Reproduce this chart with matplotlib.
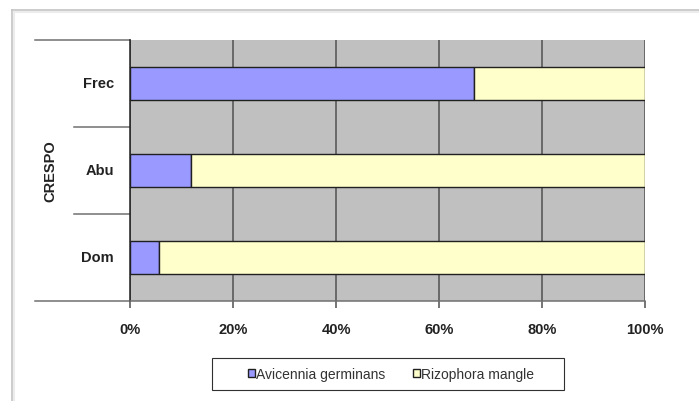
import matplotlib
matplotlib.use("Agg")
import matplotlib.pyplot as plt
from matplotlib.lines import Line2D
from matplotlib.patches import Patch, Rectangle
import matplotlib.transforms as mtransforms
import numpy as np

plt.rcParams['font.family'] = ['Liberation Sans', 'DejaVu Sans']

categories = ["Dom", "Abu", "Frec"]
avicennia = [5.7, 11.8, 66.7]
rizophora = [94.3, 88.2, 33.3]
series_names = ["Avicennia germinans", "Rizophora mangle"]
axis_title = "CRESPO"
xticks = [0, 20, 40, 60, 80, 100]
xtick_labels = ["0%", "20%", "40%", "60%", "80%", "100%"]

W, H = 699, 402
fig = plt.figure(figsize=(W / 100, H / 100), dpi=100)
fig.patch.set_facecolor("white")

# chart outer frame (top & left edges visible)
fig.add_artist(Line2D([12 / W, 1], [1 - 11 / H, 1 - 11 / H], color="#c4c4c4", lw=1.2))
fig.add_artist(Line2D([12 / W, 12 / W], [0, 1 - 11 / H], color="#c4c4c4", lw=1.2))
fig.add_artist(Line2D([14 / W, 1], [1 - 13 / H, 1 - 13 / H], color="#ececec", lw=1.5))
fig.add_artist(Line2D([14 / W, 14 / W], [0, 1 - 13 / H], color="#ececec", lw=1.5))

ax = fig.add_axes([130 / W, 1 - 302 / H, 515 / W, 261 / H])
ax.set_facecolor("#c0c0c0")

y = np.arange(len(categories))
bh = 0.39
ax.barh(y, avicennia, height=bh, color="#9999ff", edgecolor="#202020", lw=1.0,
        label=series_names[0], zorder=3)
ax.barh(y, rizophora, left=avicennia, height=bh, color="#ffffcc", edgecolor="#202020",
        lw=1.0, label=series_names[1], zorder=3)

ax.set_xlim(0, 100)
ax.set_ylim(-0.5, len(categories) - 0.5)
ax.set_xticks(xticks)
ax.set_xticklabels(xtick_labels, fontsize=10.5, fontweight="bold", color="#222222")
ax.xaxis.grid(True, color="#505050", lw=1.1, zorder=1)
ax.set_axisbelow(True)
ax.tick_params(axis="x", direction="out", length=5, width=1.1, color="#505050", pad=10)
ax.set_yticks([])

for s in ["top", "right"]:
    ax.spines[s].set_visible(False)
ax.spines["left"].set_color("#202020")
ax.spines["left"].set_linewidth(1.1)
ax.spines["bottom"].set_color("#707070")
ax.spines["bottom"].set_linewidth(1.1)

bt = mtransforms.blended_transform_factory(ax.transAxes, ax.transData)

# category labels
for yi, c in zip(y, categories):
    ax.text(-16 / 515, yi, c, transform=bt, ha="right", va="center", fontsize=10.5,
            fontweight="bold", color="#222222")

# multi-level category axis lines
for yb in [-0.5, len(categories) - 0.5]:
    ax.plot([-95 / 515, 0], [yb, yb], transform=bt, color="#707070", lw=1.1, clip_on=False)
for yb in np.arange(0.5, len(categories) - 0.5):
    ax.plot([-56 / 515, 0], [yb, yb], transform=bt, color="#707070", lw=1.1, clip_on=False)

ax.text(-80 / 515, 0.5, axis_title, transform=ax.transAxes, rotation=90, ha="center",
        va="center", fontsize=10.5, fontweight="bold", color="#222222")

handles = [Patch(facecolor="#9999ff", edgecolor="#202020", lw=1.0),
           Patch(facecolor="#ffffcc", edgecolor="#202020", lw=1.0)]
leg = fig.legend(handles, series_names, loc="center", bbox_to_anchor=(391 / W, 1 - 375 / H),
                 ncol=2, fontsize=10, frameon=False, handlelength=0.5,
                 handleheight=0.5, handletextpad=0.1, columnspacing=2.0, borderpad=0.3)
for t in leg.get_texts():
    t.set_color("#333333")
# legend box
fig.add_artist(Rectangle((212 / W, 1 - 391 / H), 352 / W, 32 / H, transform=fig.transFigure,
                         facecolor="none", edgecolor="#303030", lw=0.8))

fig.savefig("out.png", dpi=100)
